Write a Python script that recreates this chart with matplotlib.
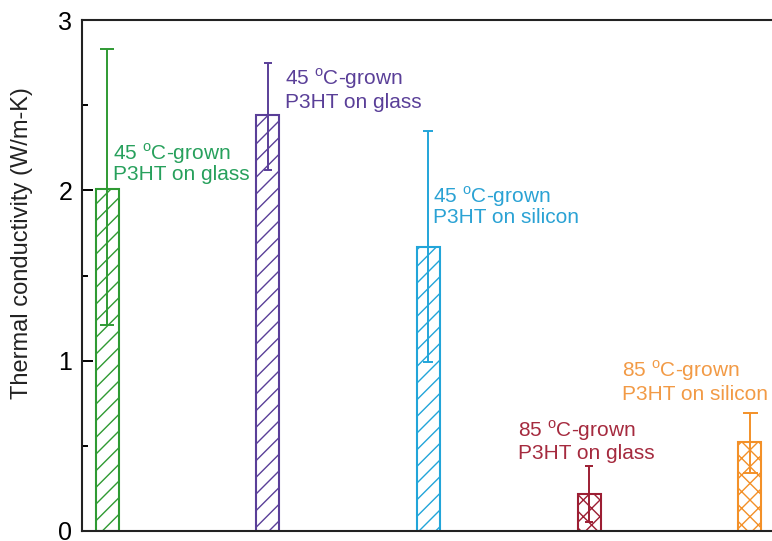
import matplotlib
matplotlib.use("Agg")
import matplotlib.pyplot as plt

plt.rcParams['font.family'] = ['Liberation Sans', 'DejaVu Sans']
plt.rcParams['mathtext.fontset'] = 'custom'
plt.rcParams['mathtext.rm'] = 'Liberation Sans'
plt.rcParams['hatch.linewidth'] = 1.0

# Messwerte: Waermeleitfaehigkeit der P3HT-Proben
probe = ['45 C glass A', '45 C glass B', '45 C silicon', '85 C glass', '85 C silicon']
kappa = [2.01, 2.44, 1.67, 0.22, 0.52]
fehler_oben = [2.83, 2.75, 2.35, 0.38, 0.69]
fehler_unten = [1.21, 2.12, 0.99, 0.05, 0.34]
zeile1 = ['45 $^\\mathregular{o}$C-grown', '45 $^\\mathregular{o}$C-grown', '45 $^\\mathregular{o}$C-grown',
          '85 $^\\mathregular{o}$C-grown', '85 $^\\mathregular{o}$C-grown']
zeile2 = ['P3HT on glass', 'P3HT on glass', 'P3HT on silicon', 'P3HT on glass', 'P3HT on silicon']

# Darstellung
rand = ['#2f9a33', '#5a3f98', '#22a5d9', '#9c1e33', '#f39028']
textfarbe = ['#27a05c', '#5a3f98', '#2aa2d4', '#a52a3e', '#f29a45']
muster = ['//', '//', '//', 'xx', 'xx']
kappen = [5.0, 2.9, 3.5, 3.2, 5.4]
text_dx = [0.037, 0.106, 0.031, -0.442, -0.797]
text_y1 = [2.181, 2.621, 1.929, 0.555, 0.907]
text_y2 = [2.058, 2.486, 1.811, 0.420, 0.772]

fig = plt.figure(figsize=(7.72, 5.41), dpi=100)
ax = fig.add_axes([82/772, 10/541, 716/772, 511/541])

x = list(range(1, len(kappa) + 1))
for i in range(len(kappa)):
    ax.bar(x[i], kappa[i], width=0.143, facecolor='none', edgecolor=rand[i],
           hatch=muster[i], linewidth=1.5, zorder=2)
    err = [[kappa[i] - fehler_unten[i]], [fehler_oben[i] - kappa[i]]]
    ax.errorbar(x[i], kappa[i], yerr=err, fmt='none', ecolor=rand[i],
                elinewidth=1.4, capsize=kappen[i], capthick=1.4, zorder=3)
    ax.text(x[i] + text_dx[i], text_y1[i], zeile1[i], color=textfarbe[i],
            fontsize=15, ha='left', va='baseline')
    ax.text(x[i] + text_dx[i], text_y2[i], zeile2[i], color=textfarbe[i],
            fontsize=15, ha='left', va='baseline')

ax.set_xlim(0.844, 5.3)
ax.set_ylim(0, 3)
ax.set_xticks([])
ax.set_yticks([0, 1, 2, 3])
ax.set_yticks([0.5, 1.5, 2.5], minor=True)
ax.tick_params(axis='y', which='major', direction='in', length=8, width=1.4,
               labelsize=18, pad=7)
ax.tick_params(axis='y', which='minor', direction='in', length=4.5, width=1.4)
for s in ax.spines.values():
    s.set_linewidth(1.5)
    s.set_color('#222222')

fig.text(22.5/772, 1 - 243.5/541, 'Thermal conductivity (W/m-K)', rotation=90,
         ha='center', va='center', fontsize=17, color='#222222')

fig.savefig('out.png', dpi=100)
